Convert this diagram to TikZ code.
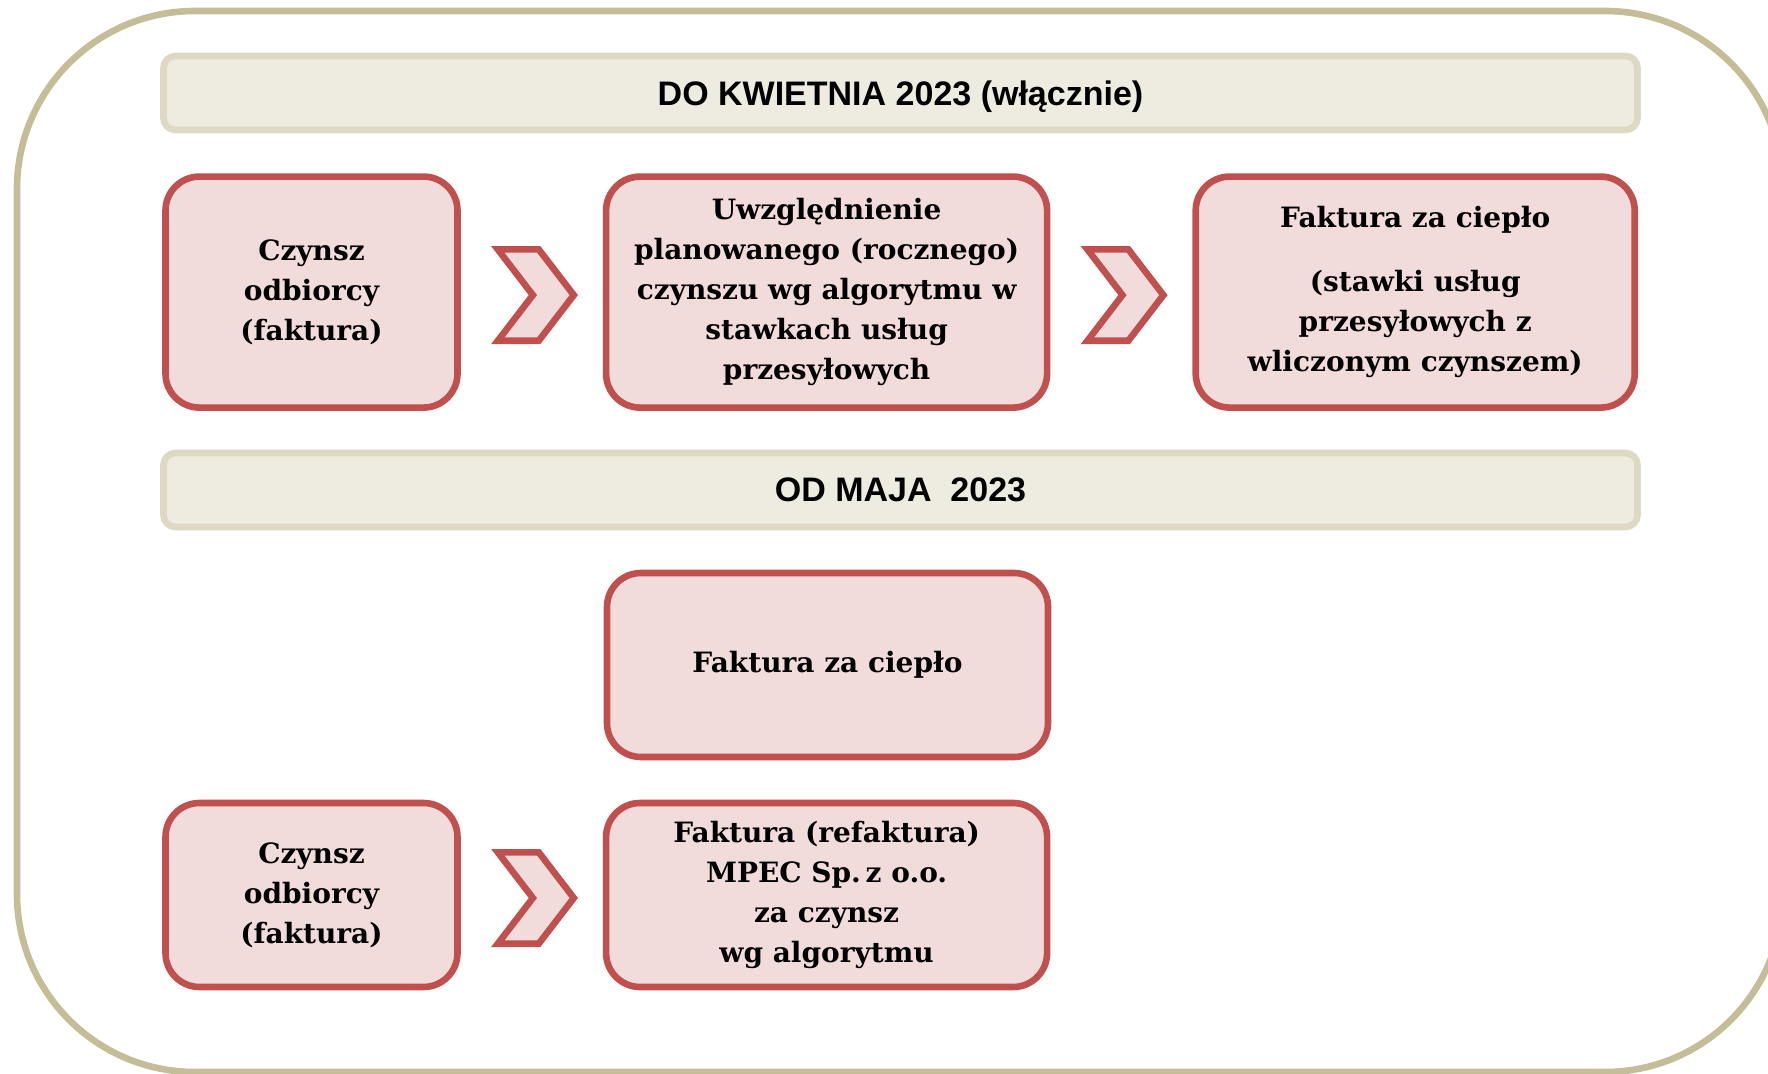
\documentclass[tikz,border=0pt]{standalone}
\usepackage{fontspec}
\setsansfont{Liberation Sans}
\newfontfamily\cardfont{DejaVu Serif}
\usepackage{xcolor}
\usetikzlibrary{positioning, calc, shapes.symbols}

\definecolor{frameline}{HTML}{C4BD97}
\definecolor{hdrline}{HTML}{DDD9C3}
\definecolor{hdrfill}{HTML}{EEECE1}
\definecolor{cardline}{HTML}{C0504D}
\definecolor{cardfill}{HTML}{F2DCDB}

\begin{document}
\begin{tikzpicture}[
        x=0.5pt, y=-0.5pt,
        hdr/.style={rectangle, draw=hdrline, fill=hdrfill, line width=3.3pt, rounded corners=6pt, minimum width=737pt, minimum height=37pt, text depth=0pt, font=\sffamily\bfseries\fontsize{17}{20}\selectfont},
        card/.style={rectangle, draw=cardline, fill=cardfill, line width=3.3pt, rounded corners=17pt, align=center, inner sep=2pt, font=\cardfont\bfseries\fontsize{14}{20}\selectfont},
        chev/.style={signal, signal from=west, signal to=east, signal pointer angle=105, draw=cardline, fill=cardfill, line width=3.3pt, minimum width=38pt, minimum height=45.7pt, inner sep=0pt, xshift=2pt, yshift=-1.5pt},
    ]
        \useasboundingbox (0,0) rectangle (1768,1074);
        % Frame
        \draw[frameline, line width=3.3pt, rounded corners=89pt] (17,11) rectangle (1783,1072);

        % Row 1
        \node[hdr] (hdrA) at (900.5,93) {DO KWIETNIA 2023 (włącznie)};
        \node[card, minimum width=146pt, minimum height=115.5pt, below right=20pt and 1pt of hdrA.south west] (rentA) {Czynsz\\odbiorcy\\(faktura)};
        \node[card, minimum width=220.5pt, minimum height=115.5pt, right=71pt of rentA] (plan) {Uwzględnienie\\planowanego (rocznego)\\czynszu wg algorytmu w\\stawkach usług\\przesyłowych};
        \node[card, minimum width=219.5pt, minimum height=115.5pt, right=71pt of plan] (heatA) {Faktura za ciepło\\[12pt](stawki usług\\przesyłowych z\\wliczonym czynszem)};

        % Row 2
        \node[hdr] (hdrB) at (900.5,490) {OD MAJA\ \ 2023};
        \node[card, minimum width=220.5pt, minimum height=92pt] (heatB) at (827.5,665) {Faktura za ciepło};

        % Row 3
        \node[card, minimum width=146pt, minimum height=92pt] (rentB) at (311.5,895) {Czynsz\\odbiorcy\\(faktura)};
        \node[card, minimum width=220.5pt, minimum height=92pt, right=71pt of rentB] (refak) {Faktura (refaktura)\\MPEC Sp.\,z o.o.\\za czynsz\\wg algorytmu};

        % Arrows
        \node[chev] (arrA) at ($(rentA.east)!0.5!(plan.west)$) {};
        \node[chev] (arrB) at ($(plan.east)!0.5!(heatA.west)$) {};
        \node[chev] (arrC) at ($(rentB.east)!0.5!(refak.west)$) {};
    \end{tikzpicture}
\end{document}
